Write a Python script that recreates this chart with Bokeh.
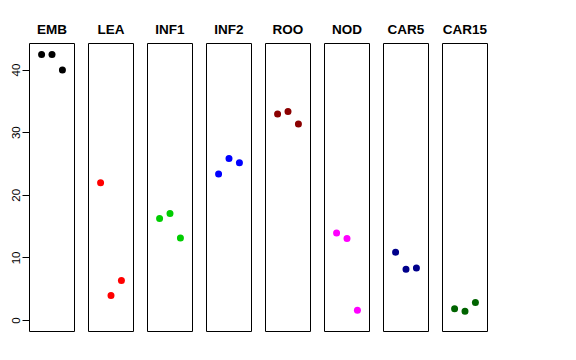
from bokeh.plotting import figure
from bokeh.layouts import gridplot
from bokeh.models import Range1d, FixedTicker
from bokeh.embed import file_html
from bokeh.resources import INLINE

# ---- data ----
tissues = ["EMB", "LEA", "INF1", "INF2", "ROO", "NOD", "CAR5", "CAR15"]
replicate = [1, 2, 3]
EMB = [42.5, 42.5, 40.0]
LEA = [22.0, 4.0, 6.4]
INF1 = [16.3, 17.1, 13.2]
INF2 = [23.4, 25.9, 25.2]
ROO = [33.0, 33.4, 31.4]
NOD = [14.0, 13.1, 1.65]
CAR5 = [10.9, 8.2, 8.4]
CAR15 = [1.9, 1.5, 2.9]
series = [EMB, LEA, INF1, INF2, ROO, NOD, CAR5, CAR15]
colors = ["#000000", "#FF0000", "#00CD00", "#0000FF", "#8B0000", "#FF00FF", "#00008B", "#006400"]
y_ticks = [0, 10, 20, 30, 40]

yr = Range1d(-1.75, 44.25)
figs = []
for i, (name, vals, col) in enumerate(zip(tissues, series, colors)):
    p = figure(frame_width=45, frame_height=288, output_backend="svg",
               toolbar_location=None, x_range=Range1d(-0.16, 4.16), y_range=yr,
               min_border_left=(29 if i == 0 else 7), min_border_right=7,
               min_border_top=43, min_border_bottom=10,
               x_axis_location=None, y_axis_location=("left" if i == 0 else None))
    p.title.text = name
    p.title.align = "center"
    p.title.text_font = "Liberation Sans"
    p.title.text_font_style = "bold"
    p.title.text_font_size = "13.5px"
    p.title.text_color = "#000000"
    p.title.standoff = 13
    p.xgrid.visible = False
    p.ygrid.visible = False
    p.outline_line_color = "#000000"
    p.outline_line_width = 1
    p.outline_line_alpha = 1
    p.background_fill_color = "white"
    p.border_fill_color = "white"
    if i == 0:
        ax = p.yaxis[0]
        ax.ticker = FixedTicker(ticks=y_ticks)
        ax.axis_line_color = None
        ax.major_tick_out = 7
        ax.major_tick_in = 0
        ax.minor_tick_out = 0
        ax.minor_tick_in = 0
        ax.major_tick_line_color = "#000000"
        ax.major_label_orientation = "vertical"
        ax.major_label_standoff = 2
        ax.major_label_text_font = "Liberation Sans"
        ax.major_label_text_font_size = "11.5px"
        ax.major_label_text_color = "#000000"
    p.scatter(replicate, vals, size=7, fill_color=col, line_color=None)
    figs.append(p)

grid = gridplot(figs, ncols=8, toolbar_location=None)
open("out.html", "w").write(file_html(grid, INLINE))
